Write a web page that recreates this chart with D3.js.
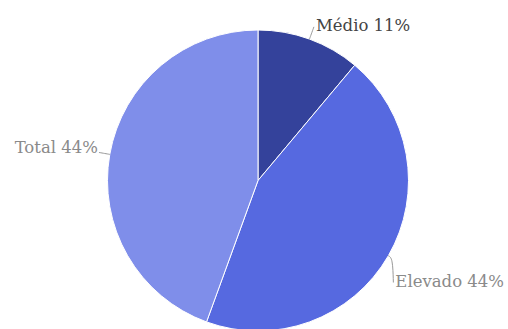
<!DOCTYPE html>
<html>
<head>
<meta charset="utf-8">
<script src="https://cdn.jsdelivr.net/npm/d3@7"></script>
<style>
  html, body { margin: 0; padding: 0; background: #fff; }
  svg { display: block; }
  .label { font-family: "DejaVu Serif", serif; font-size: 16.5px; }
</style>
</head>
<body>
<svg id="chart" width="508" height="329"></svg>
<script>
// chart data
const categories = ['Médio', 'Elevado', 'Total'];
const values = [1, 4, 4];
const percentLabels = ['11%', '44%', '44%'];
const sliceColors = ['#34429b', '#5669e0', '#7f8eea'];
const labelColors = ['#444444', '#8a8a8a', '#8a8a8a'];

const width = 508;
const height = 329;
const cx = 258;
const cy = 180.5;
const radius = 150.5;

// small nudges (degrees, px) so labels sit like the original
const labelNudge = { 'Médio': 0, 'Elevado': 7, 'Total': 0 };
const labelPush = { 'Médio': 0, 'Elevado': 6, 'Total': -2 };

const svg = d3.select('#chart');
const g = svg.append('g').attr('transform', `translate(${cx},${cy})`);

const pie = d3.pie().sort(null).value(d => d.value);
const data = categories.map((c, i) => ({ name: c, value: values[i], pct: percentLabels[i], i }));
const arcs = pie(data);

const arc = d3.arc().innerRadius(0).outerRadius(radius);

g.selectAll('path.slice')
  .data(arcs)
  .join('path')
  .attr('class', 'slice')
  .attr('d', arc)
  .attr('fill', d => sliceColors[d.data.i])
  .attr('stroke', '#fff')
  .attr('stroke-width', 1);

// polar helper, angle measured clockwise from 12 o'clock
const polar = (r, a) => [r * Math.sin(a), -r * Math.cos(a)];
const rad = deg => deg * Math.PI / 180;

arcs.forEach(d => {
  const mid = (d.startAngle + d.endAngle) / 2;
  const la = mid + rad(labelNudge[d.data.name]);
  const start = polar(radius, mid);
  const bend = polar(radius + 5, mid);
  const end = polar(radius + 13 + labelPush[d.data.name], la);
  const right = Math.sin(la) >= 0;

  g.append('path')
    .attr('d', d3.line().curve(d3.curveBasis)([start, bend, end]))
    .attr('fill', 'none')
    .attr('stroke', '#999')
    .attr('stroke-width', 1);

  g.append('text')
    .attr('class', 'label')
    .attr('x', end[0] + (right ? 2 : -1))
    .attr('y', end[1] + (right ? 4 : 1))
    .attr('text-anchor', right ? 'start' : 'end')
    .attr('fill', labelColors[d.data.i])
    .text(`${d.data.name} ${d.data.pct}`);
});
</script>
</body>
</html>
